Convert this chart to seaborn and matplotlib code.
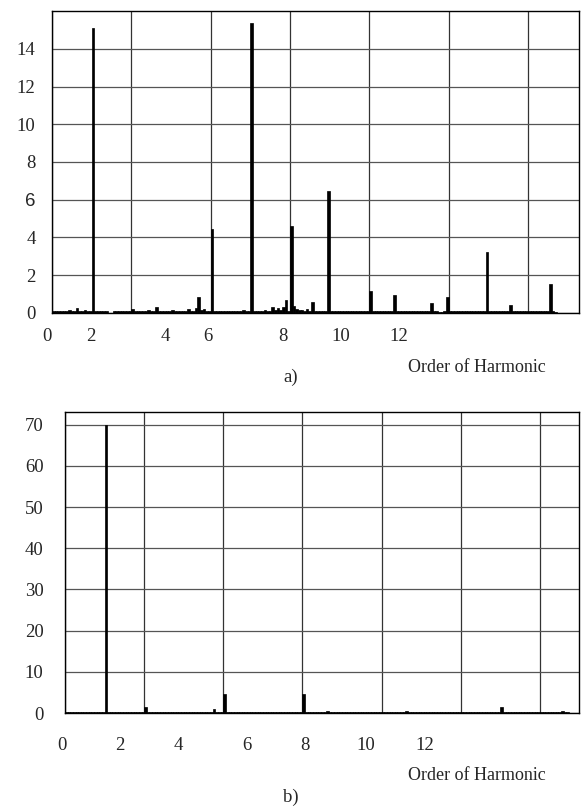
import matplotlib
matplotlib.use("Agg")
import matplotlib.pyplot as plt
import matplotlib.transforms as mtransforms
import seaborn as sns
import numpy as np
import pandas as pd

# Harmonic amplitude per spectral bin, panel a) (bins 0-190)
spectrum_a = [
    0.08, 0.08, 0.08, 0.08, 0.10, 0.08, 0.15, 0.08, 0.10, 0.27, 0.10, 0.08, 0.15, 0.08, 0.10,
    15.08, 0.08, 0.08, 0.08, 0.08, 0.08, 0.00, 0.00, 0.08, 0.12, 0.08, 0.08, 0.08, 0.08, 0.10,
    0.20, 0.08, 0.08, 0.08, 0.10, 0.08, 0.15, 0.08, 0.10, 0.30, 0.08, 0.08, 0.08, 0.10, 0.08,
    0.15, 0.08, 0.08, 0.08, 0.08, 0.10, 0.22, 0.08, 0.10, 0.25, 0.83, 0.15, 0.20, 0.10, 0.10,
    4.43, 0.10, 0.12, 0.08, 0.08, 0.08, 0.08, 0.08, 0.08, 0.08, 0.10, 0.08, 0.15, 0.08, 0.08,
    15.34, 0.08, 0.08, 0.08, 0.08, 0.15, 0.10, 0.10, 0.33, 0.15, 0.25, 0.15, 0.30, 0.69, 0.12,
    4.61, 0.35, 0.20, 0.15, 0.15, 0.10, 0.20, 0.08, 0.60, 0.08, 0.08, 0.08, 0.08, 0.08, 6.48,
    0.08, 0.08, 0.12, 0.08, 0.08, 0.08, 0.08, 0.08, 0.10, 0.08, 0.08, 0.08, 0.08, 0.08, 0.08,
    1.18, 0.08, 0.08, 0.08, 0.08, 0.12, 0.08, 0.08, 0.08, 0.95, 0.08, 0.08, 0.08, 0.08, 0.08,
    0.08, 0.08, 0.08, 0.08, 0.08, 0.10, 0.08, 0.08, 0.55, 0.08, 0.08, 0.05, 0.05, 0.08, 0.85,
    0.08, 0.08, 0.12, 0.08, 0.08, 0.08, 0.08, 0.08, 0.08, 0.08, 0.08, 0.08, 0.08, 0.08, 3.21,
    0.08, 0.08, 0.12, 0.08, 0.08, 0.08, 0.08, 0.08, 0.42, 0.08, 0.08, 0.08, 0.08, 0.08, 0.08,
    0.08, 0.08, 0.08, 0.08, 0.08, 0.08, 0.08, 0.10, 1.54, 0.10, 0.05,
]

# Harmonic amplitude per spectral bin, panel b) (bins 0-190)
spectrum_b = [
    0.3, 0.3, 0.3, 0.3, 0.3, 0.3, 0.3, 0.3, 0.3, 0.3, 0.3, 0.3, 0.3, 0.3, 0.3,
    70.0, 0.3, 0.3, 0.3, 0.3, 0.3, 0.3, 0.3, 0.3, 0.3, 0.3, 0.3, 0.3, 0.3, 0.3,
    1.5, 0.3, 0.3, 0.3, 0.3, 0.3, 0.3, 0.3, 0.3, 0.3, 0.3, 0.3, 0.3, 0.3, 0.3,
    0.3, 0.3, 0.3, 0.3, 0.3, 0.3, 0.3, 0.3, 0.3, 0.3, 0.3, 1.0, 0.3, 0.3, 0.3,
    4.5, 0.3, 0.3, 0.3, 0.3, 0.3, 0.3, 0.3, 0.3, 0.3, 0.3, 0.3, 0.3, 0.3, 0.3,
    0.3, 0.3, 0.3, 0.3, 0.3, 0.3, 0.3, 0.3, 0.3, 0.3, 0.3, 0.3, 0.3, 0.3, 0.3,
    4.5, 0.3, 0.3, 0.3, 0.3, 0.3, 0.3, 0.3, 0.3, 0.6, 0.3, 0.3, 0.3, 0.3, 0.3,
    0.3, 0.3, 0.3, 0.3, 0.3, 0.3, 0.3, 0.3, 0.3, 0.3, 0.3, 0.3, 0.3, 0.3, 0.3,
    0.3, 0.3, 0.3, 0.3, 0.3, 0.3, 0.3, 0.3, 0.3, 0.6, 0.3, 0.3, 0.3, 0.3, 0.3,
    0.3, 0.3, 0.3, 0.3, 0.3, 0.3, 0.3, 0.3, 0.3, 0.3, 0.3, 0.3, 0.3, 0.3, 0.3,
    0.3, 0.3, 0.3, 0.3, 0.3, 0.3, 0.3, 0.3, 0.3, 0.3, 0.3, 0.3, 0.3, 0.3, 0.3,
    1.4, 0.3, 0.3, 0.3, 0.3, 0.3, 0.3, 0.3, 0.3, 0.3, 0.3, 0.3, 0.3, 0.3, 0.3,
    0.3, 0.3, 0.3, 0.3, 0.3, 0.3, 0.3, 0.3, 0.6, 0.3, 0.3,
]

harmonic_labels = ["0", "2", "4", "6", "8", "10", "12"]
yticks_a = [0, 2, 4, 6, 8, 10, 12, 14]
yticks_b = [0, 10, 20, 30, 40, 50, 60, 70]
xlabel_text = "Order of Harmonic"
panel_tags = ["a)", "b)"]

sns.set_theme(style="white")
plt.rcParams['font.family'] = ['Liberation Serif', 'DejaVu Serif']

W, H = 582, 806
fig = plt.figure(figsize=(W / 100, H / 100), dpi=100)
ax_a = fig.add_axes([52 / W, 1 - 313 / H, 527 / W, 302 / H])
ax_b = fig.add_axes([65 / W, 1 - 713 / H, 514 / W, 301 / H])

FS = 13.5

# where each harmonic-order label sits along the bin axis
label_bins_a = [-2.4, 14.3, 42.2, 58.5, 86.9, 108.8, 130.7]
label_bins_b = [-1.6, 20.3, 42.3, 68.5, 90.4, 113.6, 135.9]


def draw_panel(ax, values, ymax, yticks, xmax, label_bins, label_drop, ypad):
    df = pd.DataFrame({"bin": np.arange(len(values)), "amp": values})
    sns.barplot(data=df, x="bin", y="amp", ax=ax, color="black", saturation=1,
                width=1.0, edgecolor="black", linewidth=0.5)
    ax.set_xlabel("")
    ax.set_ylabel("")
    # vertical grid every 30 bins, no major x ticks
    ax.set_xticks([])
    ax.set_xticks(np.arange(-0.5, xmax, 30), minor=True)
    ax.set_yticks(yticks, [str(v) for v in yticks])
    ax.set_xlim(-0.5, xmax)
    ax.set_ylim(0, ymax)
    ax.grid(False)
    ax.grid(which="minor", axis="x", color="#333333", linewidth=0.9)
    ax.grid(which="major", axis="y", color="#555555", linewidth=0.9)
    ax.set_axisbelow(True)
    ax.tick_params(axis="x", which="both", length=0, labelbottom=False)
    ax.tick_params(axis="y", which="major", length=3, direction="inout",
                   width=0.8, color="black", pad=ypad, labelsize=FS)
    for s in ax.spines.values():
        s.set_color("black")
        s.set_linewidth(1.0)
        s.set_visible(True)
    trans = mtransforms.blended_transform_factory(ax.transData, ax.transAxes)
    for b, lab in zip(label_bins, harmonic_labels):
        ax.text(b, -label_drop, lab, transform=trans,
                ha="center", va="center", fontsize=FS, clip_on=False)


draw_panel(ax_a, spectrum_a, 16, yticks_a, 198.8, label_bins_a, 24 / 302, 10.3)
draw_panel(ax_b, spectrum_b, 73.1, yticks_b, 194.3, label_bins_b, 33 / 301, 14)

# the "6" on the upper scale is set in a sans face
for t in ax_a.get_yticklabels():
    if t.get_text() == "6":
        t.set_fontfamily(["Liberation Sans", "DejaVu Sans"])

fig.text(477 / W, 1 - 367 / H, xlabel_text, ha="center", va="center", fontsize=13)
fig.text(291 / W, 1 - 377 / H, panel_tags[0], ha="center", va="center", fontsize=FS)
fig.text(477 / W, 1 - 776 / H, xlabel_text, ha="center", va="center", fontsize=13)
fig.text(291 / W, 1 - 797 / H, panel_tags[1], ha="center", va="center", fontsize=FS)

fig.savefig("out.png", dpi=100)
